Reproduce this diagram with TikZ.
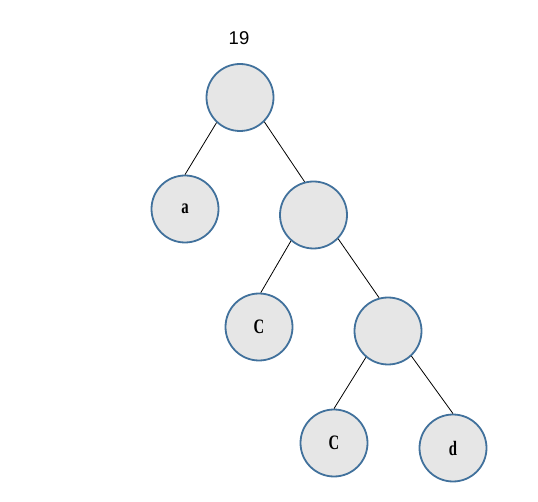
\documentclass[tikz,border=0pt]{standalone}
\usepackage{fontspec}
\setmainfont{Liberation Sans}
\newfontfamily\lblfont[FakeStretch=0.72]{Liberation Serif}
\definecolor{nodeblue}{HTML}{41719C}
\definecolor{nodefill}{HTML}{E6E6E6}
\begin{document}
\begin{tikzpicture}[x=1pt,y=-1pt,
  tnode/.style={circle,draw=nodeblue,fill=nodefill,line width=1.8pt,minimum size=67pt,inner sep=0pt,font=\lblfont\bfseries\fontsize{20.5}{22}\selectfont},
  edge/.style={draw=black,line width=0.8pt}]
\useasboundingbox (0,0) rectangle (538,502);
\node[font=\fontsize{18.5}{20}\selectfont] (lbl) at (239,38) {19};
\node[tnode] (root) at (240,97.5) {};
\node[tnode] (a) at (185,209) {a};
\node[tnode] (n2) at (313.5,215) {};
\node[tnode] (c1) at (259,327) {C};
\node[tnode] (n3) at (388,331) {};
\node[tnode] (c2) at (334,443) {C};
\node[tnode] (d) at (453,448) {d};
\draw[edge] (root.227) -- (a.90);
\draw[edge] (root.315) -- (n2.105);
\draw[edge] (n2.229) -- (c1.87);
\draw[edge] (n2.316) -- (n3.105);
\draw[edge] (n3.230) -- (c2.90);
\draw[edge] (n3.313) -- (d.90);
\end{tikzpicture}
\end{document}
